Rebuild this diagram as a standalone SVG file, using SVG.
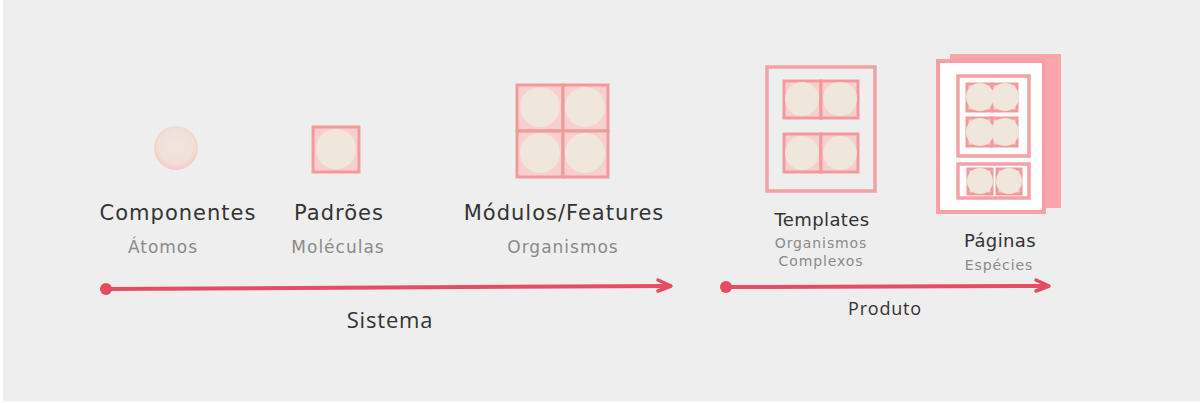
<svg xmlns="http://www.w3.org/2000/svg" width="1200" height="403" viewBox="0 0 1200 403">
<defs>
<style>
.t1{font-family:"DejaVu Sans","Noto Sans",sans-serif;font-size:21px;letter-spacing:1px;fill:#333;text-anchor:middle}
.t2{font-family:"DejaVu Sans","Noto Sans",sans-serif;font-size:17px;letter-spacing:1px;fill:#8a8a8a;text-anchor:middle}
.t3{font-family:"DejaVu Sans","Noto Sans",sans-serif;font-size:18px;letter-spacing:0.4px;fill:#333;text-anchor:middle}
.t4{font-family:"DejaVu Sans","Noto Sans",sans-serif;font-size:14px;letter-spacing:0.9px;fill:#8a8a8a;text-anchor:middle}
.ax{font-family:"Open Sans","Noto Sans",sans-serif;fill:#333;text-anchor:middle}
.cellbox{fill:#f8cfcf;stroke:#f4999b;stroke-width:3}
.blob{fill:#efe6dc}
.frame{fill:none;stroke:#f4a0a4;stroke-width:3.5}
.conn{stroke:#e64d62;stroke-width:4;fill:none;stroke-linecap:round}
.head{stroke:#e64d62;stroke-width:3.5;fill:none;stroke-linecap:round;stroke-linejoin:round}
</style>
<radialGradient id="atomg" cx="0.5" cy="0.45" r="0.55">
<stop offset="0" stop-color="#f0e6dc"/>
<stop offset="0.7" stop-color="#f1e0d8"/>
<stop offset="1" stop-color="#f8c9c9"/>
</radialGradient>
</defs>
<rect x="0" y="0" width="1200" height="403" fill="#eeeeee"/>
<rect x="0" y="0" width="3" height="403" fill="#ffffff"/>
<rect x="0" y="401" width="1200" height="2" fill="#fbfbfb"/>

<g id="atom">
<circle cx="176" cy="148" r="22" fill="url(#atomg)"/>
<text class="t1" x="178" y="220">Componentes</text>
<text class="t2" x="163" y="253">Átomos</text>
</g>

<g id="molecule">
<rect class="cellbox" x="313" y="127" width="46" height="45"/>
<circle class="blob" cx="336" cy="149" r="20"/>
<text class="t1" x="339" y="220">Padrões</text>
<text class="t2" x="338" y="253">Moléculas</text>
</g>

<g id="organism">
<rect class="cellbox" x="517" y="85" width="46" height="46"/>
<rect class="cellbox" x="563" y="85" width="45" height="46"/>
<rect class="cellbox" x="517" y="131" width="46" height="46"/>
<rect class="cellbox" x="563" y="131" width="45" height="46"/>
<circle class="blob" cx="540" cy="107" r="20"/>
<circle class="blob" cx="585" cy="107" r="20"/>
<circle class="blob" cx="540" cy="153" r="20"/>
<circle class="blob" cx="585" cy="153" r="20"/>
<text class="t1" x="564" y="220">Módulos/Features</text>
<text class="t2" x="563" y="253">Organismos</text>
</g>

<g id="template">
<rect class="frame" x="767" y="67" width="108" height="124"/>
<rect class="cellbox" x="784" y="81" width="37" height="37"/>
<rect class="cellbox" x="821" y="81" width="37" height="37"/>
<rect class="cellbox" x="784" y="134" width="37" height="38"/>
<rect class="cellbox" x="821" y="134" width="37" height="38"/>
<circle class="blob" cx="802" cy="99" r="17"/>
<circle class="blob" cx="840" cy="99" r="17"/>
<circle class="blob" cx="802" cy="153" r="17"/>
<circle class="blob" cx="840" cy="153" r="17"/>
<text class="t3" x="822" y="226">Templates</text>
<text class="t4" x="821" y="248">Organismos</text>
<text class="t4" x="821" y="266">Complexos</text>
</g>

<g id="page">
<rect x="950" y="54" width="111" height="154" fill="#f9a5aa"/>
<rect x="938" y="61" width="106" height="151" fill="#ffffff" stroke="#f4a0a4" stroke-width="4"/>
<rect class="frame" x="958" y="76" width="71" height="80" stroke-width="3"/>
<rect class="cellbox" x="967" y="84" width="25" height="27"/>
<rect class="cellbox" x="992" y="84" width="25" height="27"/>
<rect class="cellbox" x="967" y="118" width="25" height="28"/>
<rect class="cellbox" x="992" y="118" width="25" height="28"/>
<circle class="blob" cx="980" cy="97" r="14"/>
<circle class="blob" cx="1005" cy="97" r="14"/>
<circle class="blob" cx="980" cy="132" r="14"/>
<circle class="blob" cx="1005" cy="132" r="14"/>
<rect class="frame" x="958" y="164" width="71" height="34" stroke-width="3"/>
<rect class="cellbox" x="968" y="169" width="24" height="25" stroke-width="1.5"/>
<rect class="cellbox" x="997" y="169" width="24" height="25" stroke-width="1.5"/>
<circle class="blob" cx="980" cy="181" r="13"/>
<circle class="blob" cx="1009" cy="181" r="13"/>
<text class="t3" x="1000" y="247">Páginas</text>
<text class="t4" x="999" y="270" letter-spacing="0.6">Espécies</text>
</g>

<g id="connectors">
<circle cx="106" cy="289" r="6" fill="#e64d62"/>
<path class="conn" d="M106 289 L670 286"/>
<path class="head" d="M658 280 L671 286 L658 291"/>
<circle cx="726" cy="287" r="6" fill="#e64d62"/>
<path class="conn" d="M726 287 L1048 286"/>
<path class="head" d="M1036 280 L1049 286 L1036 291"/>
<text class="ax" x="390" y="328" font-size="22" letter-spacing="0.8">Sistema</text>
<text class="ax" x="885" y="315" font-size="18" letter-spacing="0.8">Produto</text>
</g>
</svg>
